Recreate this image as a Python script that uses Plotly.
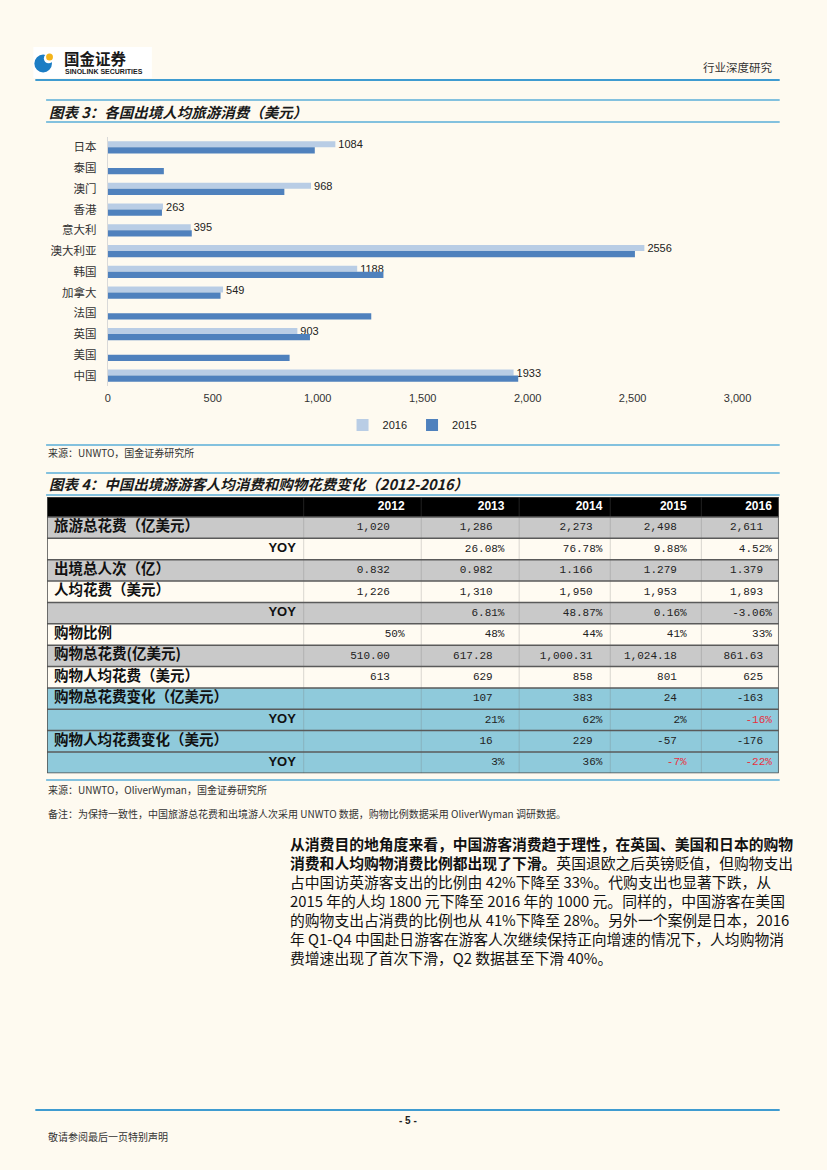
import plotly.graph_objects as go

W, H = 827, 1170
BG = "#FEFAF0"
CJK = "Noto Sans CJK SC"
SANS = "Liberation Sans"
MONO = "Liberation Mono"

# ---------------- Chart 3 data ----------------
countries = ["日本", "泰国", "澳门", "香港", "意大利", "澳大利亚", "韩国", "加拿大", "法国", "英国", "美国", "中国"]
spend_2016 = [1084, None, 968, 263, 395, 2556, 1188, 549, None, 903, None, 1933]
spend_2015 = [986, 267, 841, 258, 400, 2511, 1313, 537, 1255, 963, 866, 1955]
x_tick_vals = [0, 500, 1000, 1500, 2000, 2500, 3000]

# ---------------- Table (chart 4) data ----------------
years = ["2012", "2013", "2014", "2015", "2016"]
row_labels = ["旅游总花费（亿美元）", "YOY", "出境总人次（亿）", "人均花费（美元）", "YOY",
              "购物比例", "购物总花费(亿美元)", "购物人均花费（美元）",
              "购物总花费变化（亿美元）", "YOY", "购物人均花费变化（美元）", "YOY"]
travel_total = ["1,020", "1,286", "2,273", "2,498", "2,611"]
travel_total_yoy = ["", "26.08%", "76.78%", "9.88%", "4.52%"]
outbound_trips = ["0.832", "0.982", "1.166", "1.279", "1.379"]
per_capita = ["1,226", "1,310", "1,950", "1,953", "1,893"]
per_capita_yoy = ["", "6.81%", "48.87%", "0.16%", "-3.06%"]
shopping_share = ["50%", "48%", "44%", "41%", "33%"]
shopping_total = ["510.00", "617.28", "1,000.31", "1,024.18", "861.63"]
shopping_per_capita = ["613", "629", "858", "801", "625"]
shopping_total_change = ["", "107", "383", "24", "-163"]
shopping_total_change_yoy = ["", "21%", "62%", "2%", "-16%"]
shopping_pc_change = ["", "16", "229", "-57", "-176"]
shopping_pc_change_yoy = ["", "3%", "36%", "-7%", "-22%"]
table_rows = [travel_total, travel_total_yoy, outbound_trips, per_capita, per_capita_yoy,
              shopping_share, shopping_total, shopping_per_capita,
              shopping_total_change, shopping_total_change_yoy,
              shopping_pc_change, shopping_pc_change_yoy]
yoy_rows = {1, 4, 9, 11}
red_rows = {9, 11}
row_fill = ["grey", "cream", "grey", "cream", "grey", "cream", "grey", "cream",
            "blue", "blue", "blue", "blue"]

# ---------------- layout constants ----------------
TBL_LEFT, TBL_RIGHT, TBL_TOP = 45, 792, 497
HEADER_H, ROW_H = 20, 21.36
COL_W = [262, 120, 100, 93, 93, 79]
TEXT_RIGHT = [365, 467, 567, 653, 740]
NUM_INSET = [15, 12, 10, 10, 9]
FILL_CODE = {"header": 0, "grey": 1, "cream": 2, "blue": 3}

col_edges = [0]
for w in COL_W:
    col_edges.append(col_edges[-1] + w)
row_edges = [0, HEADER_H]
for _ in table_rows:
    row_edges.append(row_edges[-1] + ROW_H)
TBL_H = row_edges[-1]
row_centers = [(row_edges[i] + row_edges[i + 1]) / 2 for i in range(len(row_edges) - 1)]


def px(x):
    return x / W


def py(y):
    return 1 - y / H


fig = go.Figure()

# ---------------- Bar chart ----------------
fig.add_trace(go.Bar(
    y=countries, x=spend_2016, orientation="h", name="2016",
    marker=dict(color="#B9CDE5", line=dict(width=0)),
    text=["" if v is None else str(v) for v in spend_2016],
    textposition="outside", constraintext="none", cliponaxis=False,
    textfont=dict(family=SANS, size=11, color="#222"),
    hoverinfo="skip", xaxis="x", yaxis="y"))
fig.add_trace(go.Bar(
    y=countries, x=spend_2015, orientation="h", name="2015",
    marker=dict(color="#4F81BD", line=dict(width=0)),
    hoverinfo="skip", xaxis="x", yaxis="y"))

# ---------------- Table ----------------
z = [[FILL_CODE["header"]] * len(COL_W)]
for f in row_fill:
    z.append([FILL_CODE[f]] * len(COL_W))
fig.add_trace(go.Heatmap(
    x=col_edges, y=row_edges, z=z, zmin=0, zmax=3,
    colorscale=[[0, "#000000"], [1 / 3, "#C9C9C9"], [2 / 3, "#FFFBF2"], [1, "#8FCADB"]],
    showscale=False, hoverinfo="skip", xaxis="x2", yaxis="y2"))

# header text
fig.add_trace(go.Scatter(
    x=TEXT_RIGHT, y=[row_centers[0]] * len(years), mode="text",
    text=["<b>%s</b>" % y for y in years], textposition="middle left",
    textfont=dict(family=SANS, size=12, color="white"),
    hoverinfo="skip", showlegend=False, xaxis="x2", yaxis="y2"))

# row labels
lab_x, lab_y, lab_t = [], [], []
yoy_x, yoy_y, yoy_t = [], [], []
for i, lab in enumerate(row_labels):
    if i in yoy_rows:
        yoy_x.append(240)
        yoy_y.append(row_centers[i + 1])
        yoy_t.append("<b>%s</b>" % lab)
    else:
        lab_x.append(7)
        lab_y.append(row_centers[i + 1])
        lab_t.append("<b>%s</b>" % lab)
fig.add_trace(go.Scatter(
    x=lab_x, y=lab_y, text=lab_t, mode="text", textposition="middle right",
    textfont=dict(family=CJK, size=14.5, color="#111"),
    hoverinfo="skip", showlegend=False, xaxis="x2", yaxis="y2"))
fig.add_trace(go.Scatter(
    x=yoy_x, y=yoy_y, text=yoy_t, mode="text", textposition="middle center",
    textfont=dict(family=SANS, size=13, color="#111"),
    hoverinfo="skip", showlegend=False, xaxis="x2", yaxis="y2"))

# values
vx, vy, vt, vc = [], [], [], []
for i, row in enumerate(table_rows):
    for j, val in enumerate(row):
        if not val:
            continue
        right = TEXT_RIGHT[j] if val.endswith("%") else TEXT_RIGHT[j] - NUM_INSET[j]
        vx.append(right)
        vy.append(row_centers[i + 1])
        vt.append(val)
        vc.append("#E8303F" if (i in red_rows and val.startswith("-")) else "#222")
fig.add_trace(go.Scatter(
    x=vx, y=vy, text=vt, mode="text", textposition="middle left",
    textfont=dict(family=MONO, size=11, color=vc),
    hoverinfo="skip", showlegend=False, xaxis="x2", yaxis="y2"))

shapes = []
# table grid
for e in col_edges[1:-1]:
    shapes.append(dict(type="line", xref="x2", yref="y2", x0=e, x1=e, y0=0, y1=TBL_H,
                       line=dict(color="rgba(120,120,120,0.28)", width=1), layer="above"))
for e in row_edges[1:-1]:
    shapes.append(dict(type="line", xref="x2", yref="y2", x0=0, x1=col_edges[-1], y0=e, y1=e,
                       line=dict(color="#5A5A5A", width=1.5), layer="above"))
shapes.append(dict(type="rect", xref="x2", yref="y2", x0=0, x1=col_edges[-1], y0=0, y1=TBL_H,
                   line=dict(color="#4A4A4A", width=1.5), layer="above"))


def hline(x0, x1, y, color="#5AAED8", width=1.5):
    shapes.append(dict(type="line", xref="paper", yref="paper", x0=px(x0), x1=px(x1),
                       y0=py(y), y1=py(y), line=dict(color=color, width=width)))


hline(33, 793, 80, "#3F9BD0", 2)
hline(44, 793, 100)
hline(44, 793, 122)
hline(44, 793, 445)
hline(44, 793, 473)
hline(44, 793, 495)
hline(44, 793, 780)
hline(33, 793, 1110, "#3F9BD0", 2)

# logo
shapes.append(dict(type="rect", xref="paper", yref="paper", x0=px(31), x1=px(152), y0=py(78), y1=py(47),
                   fillcolor="white", line=dict(width=0), layer="below"))


def circ(cx, cy, r, color):
    shapes.append(dict(type="circle", xref="paper", yref="paper", x0=px(cx - r), x1=px(cx + r),
                       y0=py(cy + r), y1=py(cy - r), fillcolor=color, line=dict(width=0)))


circ(41, 63.5, 9, "#1C7DC4")
circ(46.5, 58.5, 4.8, "white")
circ(47.5, 57, 3.5, "#F4B41A")

annotations = []


def txt(x, y, text, size, color="#222", family=CJK, xanchor="left"):
    annotations.append(dict(xref="paper", yref="paper", x=px(x), y=py(y), text=text,
                            showarrow=False, xanchor=xanchor, yanchor="middle",
                            font=dict(family=family, size=size, color=color), borderpad=0))


txt(61, 57.5, "<b>国金证券</b>", 15.5, "#1a1a1a")
txt(62, 71.5, "<b>SINOLINK SECURITIES</b>", 7, "#1a1a1a", SANS)
txt(786, 67, "行业深度研究", 11.5, "#333", CJK, "right")

txt(46, 111, "<b><i>图表 3：各国出境人均旅游消费（美元）</i></b>", 14.5, "#1a1a1a")
txt(45, 453, "来源：UNWTO，国金证券研究所", 10, "#333")
txt(46, 483, "<b><i>图表 4：中国出境游游客人均消费和购物花费变化（2012-2016）</i></b>", 14.5, "#1a1a1a")
txt(45, 789, "来源：UNWTO，OliverWyman，国金证券研究所", 10, "#333")
txt(45, 813, "备注：为保持一致性，中国旅游总花费和出境游人次采用 UNWTO 数据，购物比例数据采用 OliverWyman 调研数据。", 10, "#333")

para = [
    "<b>从消费目的地角度来看，中国游客消费趋于理性，在英国、美国和日本的购物</b>",
    "<b>消费和人均购物消费比例都出现了下滑。</b>英国退欧之后英镑贬值，但购物支出",
    "占中国访英游客支出的比例由 42%下降至 33%。代购支出也显著下跌，从",
    "2015 年的人均 1800 元下降至 2016 年的 1000 元。同样的，中国游客在美国",
    "的购物支出占消费的比例也从 41%下降至 28%。另外一个案例是日本，2016",
    "年 Q1-Q4 中国赴日游客在游客人次继续保持正向增速的情况下，人均购物消",
    "费增速出现了首次下滑，Q2 数据甚至下滑 40%。",
]
for i, line in enumerate(para):
    txt(292, 843 + 19 * i, line, 14.8, "#111")

txt(413, 1120, "<b>- 5 -</b>", 10, "#222", SANS, "center")
txt(45, 1136, "敬请参阅最后一页特别声明", 10, "#333")

fig.update_layout(
    width=W, height=H, margin=dict(l=0, r=0, t=0, b=0),
    paper_bgcolor=BG, plot_bgcolor=BG,
    font=dict(family=CJK, size=11, color="#333"),
    barmode="group", bargap=0.42, bargroupgap=0,
    showlegend=True,
    legend=dict(orientation="h", x=0.505, xanchor="center", y=py(425), yanchor="middle",
                font=dict(family=SANS, size=11, color="#222"), bgcolor="rgba(0,0,0,0)",
                itemwidth=30, traceorder="normal"),
    xaxis=dict(domain=[px(107), px(750)], range=[0, 3000], tickvals=x_tick_vals,
               tickformat=",d", showgrid=False, zeroline=False, showline=False, ticks="",
               tickfont=dict(family=SANS, size=11, color="#333"), ticklabelstandoff=4,
               anchor="y", fixedrange=True),
    yaxis=dict(domain=[py(386), py(137)], autorange="reversed", showline=True,
               linecolor="#D9D9D9", linewidth=1, ticks="", showgrid=False, zeroline=False,
               tickfont=dict(family=CJK, size=11.5, color="#333"), ticklabelstandoff=8,
               anchor="x", fixedrange=True),
    xaxis2=dict(domain=[px(TBL_LEFT), px(TBL_RIGHT)], range=[0, col_edges[-1]], visible=False,
                anchor="y2", fixedrange=True),
    yaxis2=dict(domain=[py(TBL_TOP + TBL_H), py(TBL_TOP)], range=[TBL_H, 0], visible=False,
                anchor="x2", fixedrange=True),
    shapes=shapes, annotations=annotations,
)

fig.write_html("out.html", config={"displayModeBar": False},
               post_script="document.body.style.margin='0';document.body.style.padding='0';")
